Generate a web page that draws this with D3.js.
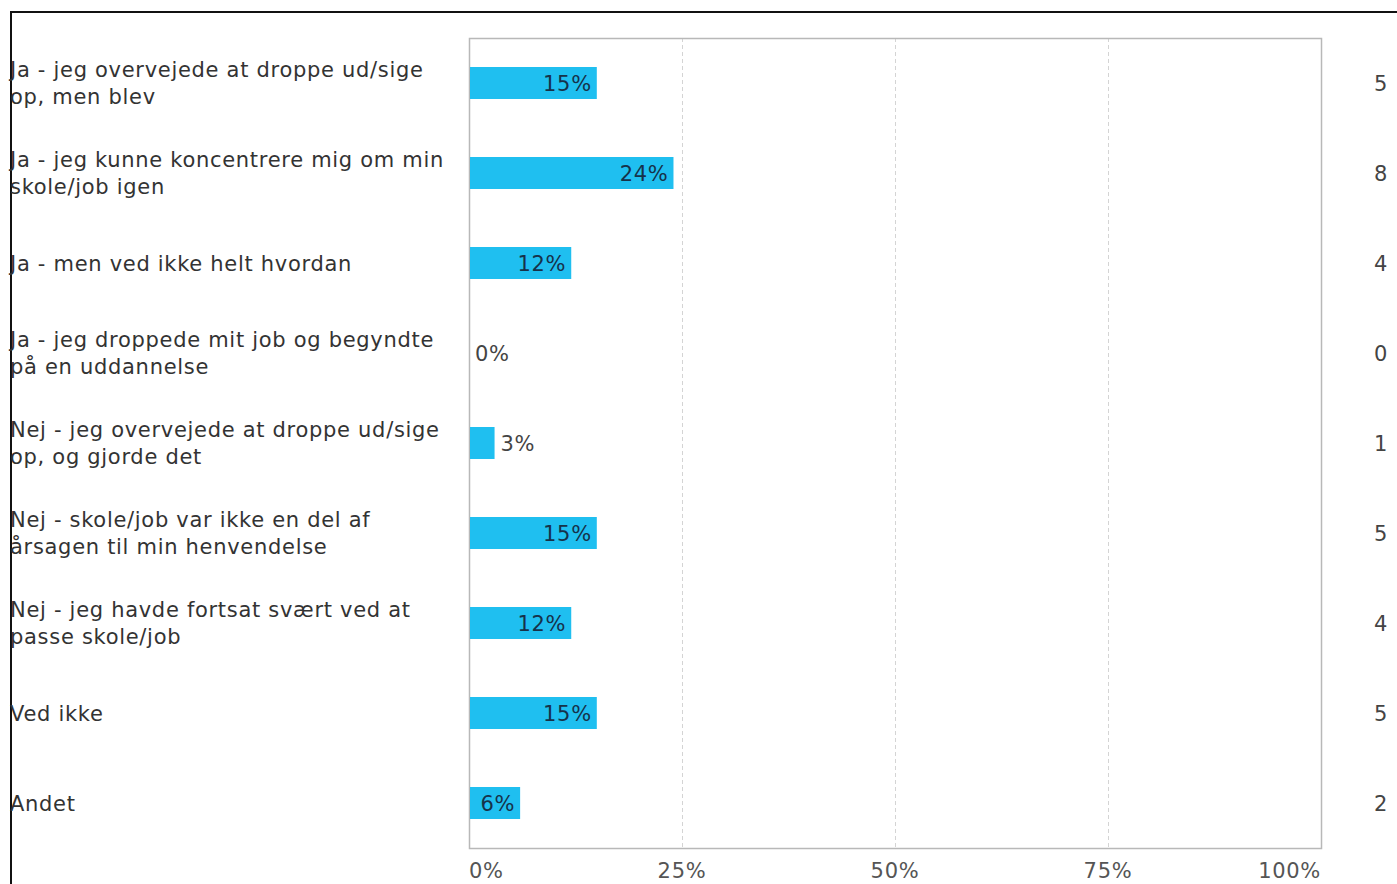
<!DOCTYPE html>
<html>
<head>
<meta charset="utf-8">
<script src="https://cdn.jsdelivr.net/npm/d3@7"></script>
<style>
  html, body { margin: 0; padding: 0; background: #fff; }
  svg { display: block; font-family: "DejaVu Sans", Verdana, sans-serif; letter-spacing: 0.7px; }
</style>
</head>
<body>
<svg id="chart" width="1397" height="884"></svg>
<script>
// Answer options (each entry is a list of wrapped lines)
const categories = [
  ["Ja - jeg overvejede at droppe ud/sige", "op, men blev"],
  ["Ja - jeg kunne koncentrere mig om min", "skole/job igen"],
  ["Ja - men ved ikke helt hvordan"],
  ["Ja - jeg droppede mit job og begyndte", "på en uddannelse"],
  ["Nej - jeg overvejede at droppe ud/sige", "op, og gjorde det"],
  ["Nej - skole/job var ikke en del af", "årsagen til min henvendelse"],
  ["Nej - jeg havde fortsat svært ved at", "passe skole/job"],
  ["Ved ikke"],
  ["Andet"]
];
// Share of respondents (%) and response counts
const percents = [15, 24, 12, 0, 3, 15, 12, 15, 6];
const counts = [5, 8, 4, 0, 1, 5, 4, 5, 2];
const tickValues = [0, 25, 50, 75, 100];
const tickLabels = ["0%", "25%", "50%", "75%", "100%"];

const svg = d3.select("#chart");
const plot = { left: 469, right: 1321, top: 38, bottom: 848 };
const fs = 21;

// Outer frame
svg.append("rect")
  .attr("x", 11).attr("y", 12)
  .attr("width", 1420).attr("height", 920)
  .attr("fill", "none").attr("stroke", "#111").attr("stroke-width", 2);

const x = d3.scaleLinear().domain([0, 100]).range([plot.left, plot.right]);
const y = d3.scaleBand().domain(d3.range(categories.length))
  .range([plot.top, plot.bottom]).paddingInner(0).paddingOuter(0);

// Dashed gridlines
svg.append("g").selectAll("line")
  .data(tickValues.slice(1, -1))
  .join("line")
  .attr("x1", d => Math.round(x(d)) + 0.5).attr("x2", d => Math.round(x(d)) + 0.5)
  .attr("y1", plot.top).attr("y2", plot.bottom)
  .attr("stroke", "#d4d4d4").attr("stroke-width", 1)
  .attr("stroke-dasharray", "4,3");

// Plot border
svg.append("rect")
  .attr("x", plot.left + 0.5).attr("y", plot.top + 0.5)
  .attr("width", plot.right - plot.left).attr("height", plot.bottom - plot.top)
  .attr("fill", "none").attr("stroke", "#b8b8b8").attr("stroke-width", 1.5);

// Bars
const barH = 32;
svg.append("g").selectAll("rect")
  .data(percents)
  .join("rect")
  .attr("x", x(0) + 1)
  .attr("y", (d, i) => y(i) + y.bandwidth() / 2 - barH / 2)
  .attr("width", d => Math.max(0, x(d) - x(0) - 1))
  .attr("height", barH)
  .attr("fill", "#1fbff0");

// Value labels: inside the bar when they fit, otherwise just after it
const valG = svg.append("g").attr("font-size", fs);
percents.forEach((d, i) => {
  const label = d + "%";
  const t = valG.append("text")
    .attr("y", y(i) + y.bandwidth() / 2)
    .attr("dy", "0.36em")
    .text(label);
  const w = t.node().getComputedTextLength();
  const barW = x(d) - x(0);
  if (w + 8 <= barW) {
    t.attr("x", x(d) - 5).attr("text-anchor", "end").attr("fill", "#16324a");
  } else {
    t.attr("x", x(d) + 6).attr("text-anchor", "start").attr("fill", "#444");
  }
});

// Category labels
const catG = svg.append("g").attr("font-size", fs).attr("fill", "#333");
categories.forEach((lines, i) => {
  const cy = y(i) + y.bandwidth() / 2;
  const lh = 27;
  const t = catG.append("text").attr("x", 10);
  lines.forEach((ln, k) => {
    t.append("tspan")
      .attr("x", 10)
      .attr("y", cy + (k - (lines.length - 1) / 2) * lh)
      .attr("dy", "0.36em")
      .text(ln);
  });
});

// Counts on the right
svg.append("g").attr("font-size", fs).attr("fill", "#444")
  .selectAll("text").data(counts).join("text")
  .attr("x", 1381).attr("text-anchor", "middle")
  .attr("y", (d, i) => y(i) + y.bandwidth() / 2).attr("dy", "0.36em")
  .text(d => d);

// X axis tick labels
svg.append("g").attr("font-size", fs).attr("fill", "#555")
  .selectAll("text").data(tickValues).join("text")
  .attr("x", d => x(d))
  .attr("y", 870).attr("dy", "0.36em")
  .attr("text-anchor", (d, i) => i === 0 ? "start" : (i === tickValues.length - 1 ? "end" : "middle"))
  .text((d, i) => tickLabels[i]);
</script>
</body>
</html>
